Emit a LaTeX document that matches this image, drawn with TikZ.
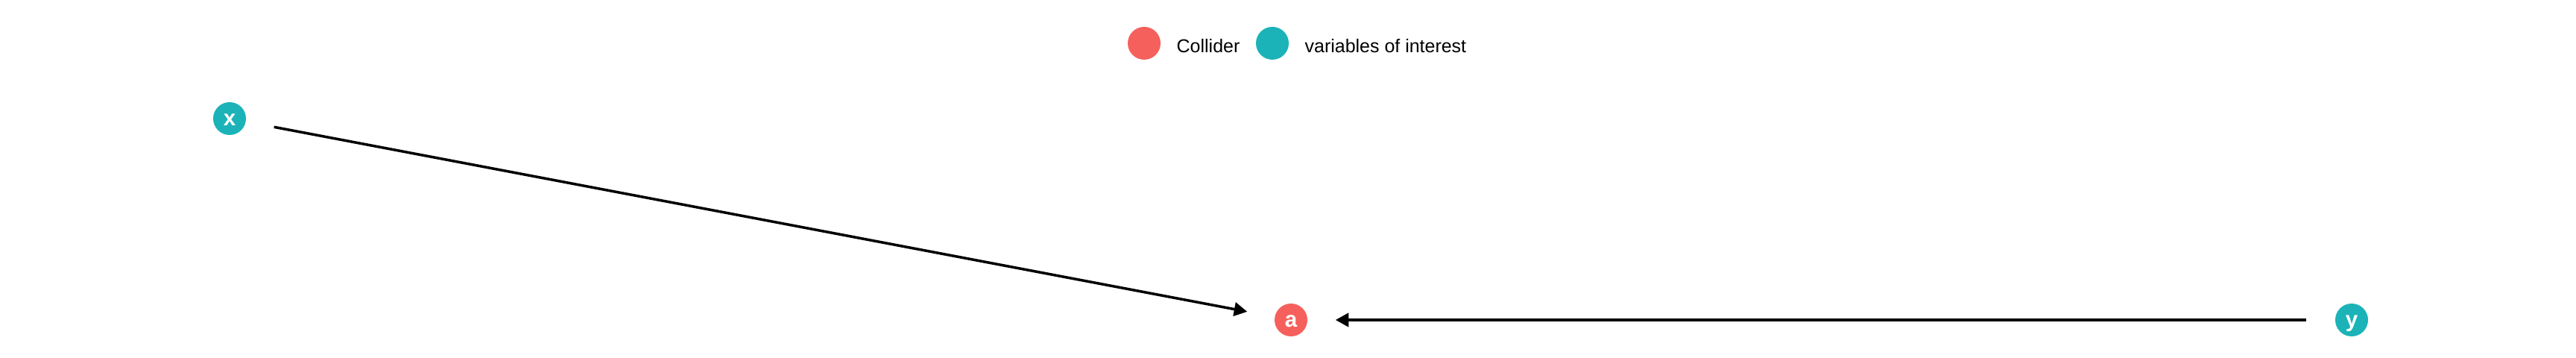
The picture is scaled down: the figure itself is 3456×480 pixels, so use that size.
\documentclass[tikz,border=0pt]{standalone}
\usepackage{fontspec}
\setmainfont{Liberation Sans}
\usetikzlibrary{arrows.meta}
\definecolor{collred}{HTML}{F5605D}
\definecolor{intteal}{HTML}{1BB3B8}
\begin{document}
\begin{tikzpicture}[x=0.01cm,y=-0.01cm,
  dagnode/.style={circle,minimum size=0.44cm,inner sep=0pt,text=white,
    font=\fontsize{8.4}{10}\selectfont\bfseries,text height=1ex,text depth=0pt},
  legdot/.style={circle,minimum size=0.44cm,inner sep=0pt},
  legtext/.style={anchor=west,inner sep=0pt,font=\fontsize{7.1}{9}\selectfont,text height=0.716em,text depth=0pt},
  edge/.style={line width=1pt,-{Triangle[length=5pt,width=5.2pt]},shorten <=0.38cm,shorten >=0.37cm}]
\useasboundingbox (0,0) rectangle (3456,480);
% legend
\node[legdot,fill=collred] (lc) at (1535,58) {};
\node[legtext] (lct) at (1578,58) {Collider};
\node[legdot,fill=intteal] (li) at (1707,58) {};
\node[legtext] (lit) at (1750,58) {variables of interest};
% nodes
\node[dagnode,fill=intteal] (x) at (308,159) {x};
\node[dagnode,fill=collred] (a) at (1732,429) {a};
\node[dagnode,fill=intteal] (y) at (3155,429) {y};
% edges
\draw[edge] (x) -- (a);
\draw[edge] (y) -- (a);
\end{tikzpicture}
\end{document}
